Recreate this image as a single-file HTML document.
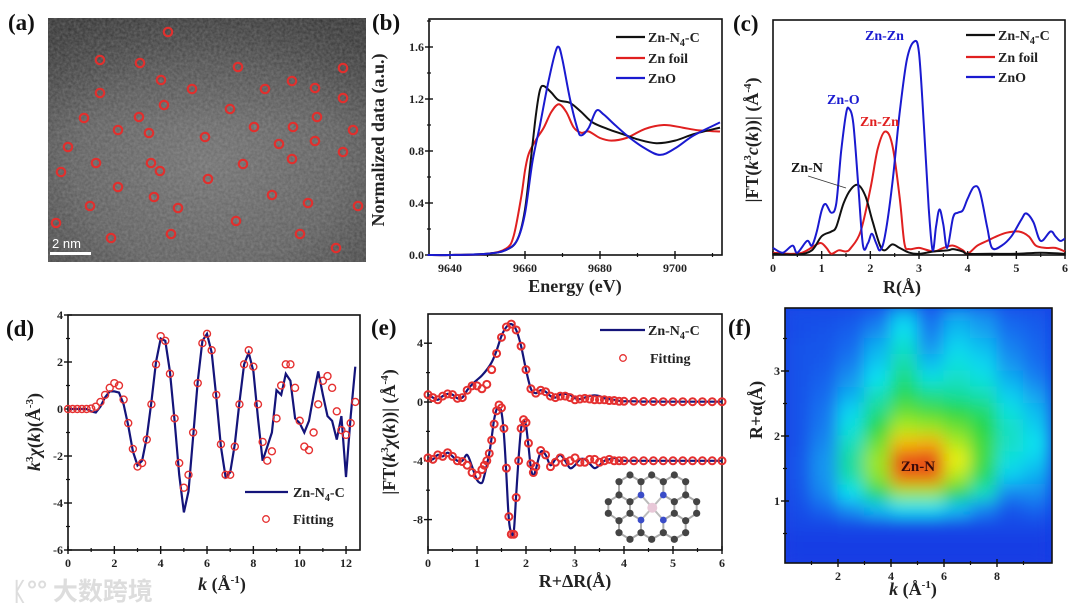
<!DOCTYPE html>
<html>
<head>
<meta charset="utf-8">
<style>
html,body{margin:0;padding:0;background:#fff;}
svg{display:block;font-family:"Liberation Serif","Noto Serif CJK SC",serif;}
.tk{font-size:12px;font-weight:bold;fill:#222;}
.tt{font-size:18px;font-weight:bold;fill:#222;}
.lg{font-size:14px;font-weight:bold;fill:#222;}
.pl{font-size:23px;font-weight:bold;fill:#111;}
</style>
</head>
<body>
<svg id="fig" width="1080" height="612" viewBox="0 0 1080 612" xmlns="http://www.w3.org/2000/svg">
<defs>
<radialGradient id="stemG" cx="50%" cy="60%" r="70%">
<stop offset="0" stop-color="#6e6e6e"/><stop offset="0.6" stop-color="#5c5c5c"/><stop offset="1" stop-color="#3c3c3c"/>
</radialGradient>
<linearGradient id="stemTop" x1="0" y1="0" x2="0" y2="1">
<stop offset="0" stop-color="#222" stop-opacity="0.45"/><stop offset="0.45" stop-color="#222" stop-opacity="0"/>
</linearGradient>
<filter id="noise" x="0" y="0" width="100%" height="100%"><feTurbulence type="fractalNoise" baseFrequency="0.35" numOctaves="2" seed="3"/><feColorMatrix type="matrix" values="0 0 0 0 0.55 0 0 0 0 0.55 0 0 0 0 0.55 0 0 0 0.35 0"/></filter>
<filter id="blurF" x="-10%" y="-10%" width="120%" height="120%"><feGaussianBlur stdDeviation="8"/></filter>
<clipPath id="clipF"><rect x="785" y="308" width="267" height="255"/></clipPath>
<clipPath id="clipA"><rect x="48" y="18" width="318" height="244"/></clipPath>
</defs>
<text class="pl" x="8" y="30">(a)</text>
<text class="pl" x="372" y="30">(b)</text>
<text class="pl" x="733" y="31">(c)</text>
<text class="pl" x="6" y="336">(d)</text>
<text class="pl" x="371" y="335">(e)</text>
<text class="pl" x="728" y="335">(f)</text>
<text x="12" y="600" style="font-family:'Noto Sans CJK SC',sans-serif;font-size:25px;fill:#ddd;font-weight:bold">ᛕ°° 大数跨境</text>
</svg>
<script>
const svg = document.getElementById('fig');
const NS = 'http://www.w3.org/2000/svg';
function mk(tag, attrs, parent){const e=document.createElementNS(NS,tag);for(const k in attrs)e.setAttribute(k,attrs[k]);(parent||svg).appendChild(e);return e;}
function smooth(pts){let d='M'+pts[0][0].toFixed(1)+','+pts[0][1].toFixed(1);for(let i=0;i<pts.length-1;i++){const p0=pts[i>0?i-1:0],p1=pts[i],p2=pts[i+1],p3=pts[i+2<pts.length?i+2:i+1];const c1=[p1[0]+(p2[0]-p0[0])/6,p1[1]+(p2[1]-p0[1])/6],c2=[p2[0]-(p3[0]-p1[0])/6,p2[1]-(p3[1]-p1[1])/6];d+='C'+c1[0].toFixed(1)+','+c1[1].toFixed(1)+' '+c2[0].toFixed(1)+','+c2[1].toFixed(1)+' '+p2[0].toFixed(1)+','+p2[1].toFixed(1);}return d;}
function poly(pts){return 'M'+pts.map(p=>p[0].toFixed(1)+','+p[1].toFixed(1)).join('L');}

/* ---------------- DATA ---------------- */
const atomX=[168,100,140,238,343,161,192,265,292,315,100,164,343,230,84,139,317,118,149,254,293,353,205,279,315,68,96,151,160,243,292,343,61,208,118,272,154,308,90,178,358,56,236,111,171,300,336];
const atomY=[32,60,63,67,68,80,89,89,81,88,93,105,98,109,118,117,117,130,133,127,127,130,137,144,141,147,163,163,171,164,159,152,172,179,187,195,197,203,206,208,206,223,221,238,234,234,248];
const bTicksX=[9640,9660,9680,9700];
const bTicksY=[0.0,0.4,0.8,1.2,1.6];
const bE_N4C=[9634,9640,9650,9655,9658,9660,9662,9663,9664,9665,9667,9669,9672,9675,9678,9682,9686,9690,9695,9700,9705,9712];
const bV_N4C=[0,0,0.01,0.04,0.12,0.35,0.85,1.1,1.27,1.3,1.25,1.19,1.17,1.1,1.02,0.97,0.93,0.89,0.86,0.88,0.93,0.98];
const bE_foil=[9634,9640,9650,9655,9657,9659,9660,9661,9663,9665,9667,9669,9671,9673,9675,9677,9680,9683,9687,9692,9697,9702,9706,9712];
const bV_foil=[0,0,0.01,0.05,0.15,0.45,0.65,0.78,0.89,0.98,1.1,1.16,1.1,0.98,0.94,0.95,0.9,0.88,0.9,0.97,1.0,0.98,0.96,0.95];
const bE_ZnO=[9634,9640,9650,9655,9658,9660,9662,9664,9666,9668,9669,9670,9672,9674,9675,9677,9679,9681,9684,9688,9692,9696,9700,9705,9712];
const bV_ZnO=[0,0,0.01,0.04,0.12,0.32,0.72,1.0,1.3,1.55,1.6,1.5,1.2,0.97,0.92,0.98,1.11,1.08,1.0,0.9,0.82,0.77,0.82,0.92,1.02];
const cTicksX=[0,1,2,3,4,5,6];
const cR_ZnO=[0,0.2,0.4,0.5,0.7,0.8,0.9,1.0,1.08,1.2,1.3,1.4,1.5,1.56,1.65,1.75,1.85,1.95,2.03,2.12,2.2,2.3,2.45,2.6,2.75,2.9,3.0,3.1,3.2,3.28,3.35,3.42,3.5,3.58,3.7,3.8,3.9,4.0,4.13,4.25,4.4,4.5,4.7,4.9,5.1,5.2,5.35,5.5,5.7,5.8,5.9,6.0];
const cV_ZnO=[0.3,0.1,0.4,0.1,0.6,0.4,1.0,1.9,2.17,1.8,2.2,4.4,6.0,6.24,5.6,3.0,0.4,0.5,0.9,0.5,0.2,0.8,3.0,6.0,8.3,9.08,8.6,5.5,2.0,0.2,1.2,1.94,1.3,0.3,1.6,1.8,1.9,2.4,2.9,2.7,1.2,0.3,0.4,0.8,1.5,1.77,1.4,0.6,1.0,0.8,0.6,0.7];
const cR_foil=[0,0.3,0.6,0.9,1.0,1.1,1.2,1.35,1.5,1.6,1.8,2.0,2.15,2.3,2.45,2.6,2.7,2.8,3.0,3.3,3.5,3.7,3.9,4.0,4.2,4.4,4.6,4.8,5.05,5.25,5.4,5.6,5.8,6.0];
const cV_foil=[0.1,0.05,0.1,0.45,0.5,0.3,0.05,0.2,0.15,0.3,1.0,2.8,4.5,5.25,4.7,2.5,0.5,0.25,0.3,0.15,0.3,0.4,0.2,0.05,0.4,0.6,0.8,0.95,1.0,0.8,0.4,0.3,0.3,0.15];
const cR_N4C=[0,0.5,0.8,1.0,1.2,1.3,1.45,1.6,1.75,1.9,2.05,2.2,2.3,2.45,2.6,2.8,3.0,3.3,3.6,3.7,3.9,4.0,4.5,5.0,5.5,6.0];
const cV_N4C=[0.05,0.02,0.2,0.8,1.0,1.2,2.2,2.8,2.98,2.5,1.4,0.4,0.2,0.45,0.3,0.1,0.05,0.15,0.2,0.25,0.15,0.05,0.05,0.05,0.1,0.05];
const dTicksX=[0,2,4,6,8,10,12];
const dTicksY=[4,2,0,-2,-4,-6];
const dK=[0,0.2,0.4,0.6,0.8,1.0,1.2,1.4,1.6,1.8,2.0,2.2,2.4,2.6,2.8,3.0,3.2,3.4,3.6,3.8,4.0,4.2,4.4,4.6,4.8,5.0,5.2,5.4,5.6,5.8,6.0,6.2,6.4,6.6,6.8,7.0,7.2,7.4,7.6,7.8,8.0,8.2,8.4,8.6,8.8,9.0,9.2,9.4,9.6,9.8,10.0,10.2,10.4,10.6,10.8,11.0,11.2,11.4,11.6,11.8,12.0,12.2,12.4];
const dFit=[0,0,0,0,0,0.02,0.1,0.3,0.6,0.9,1.1,1.0,0.4,-0.6,-1.7,-2.45,-2.3,-1.3,0.2,1.9,3.1,2.9,1.5,-0.4,-2.3,-3.35,-2.8,-1.0,1.1,2.8,3.2,2.5,0.6,-1.5,-2.8,-2.8,-1.6,0.2,1.9,2.5,1.8,0.2,-1.4,-2.2,-1.8,-0.4,1.0,1.9,1.9,0.9,-0.5,-1.6,-1.75,-1.0,0.2,1.2,1.4,0.9,-0.1,-0.9,-1.1,-0.6,0.3];
const dData=[0,0,0,0,0,-0.1,-0.15,0.1,0.5,0.75,0.75,0.7,0.2,-0.7,-1.8,-2.4,-2.2,-1.2,0.3,2.0,3.0,2.9,1.6,-0.5,-2.8,-4.4,-3.5,-1.2,1.2,2.9,3.2,2.4,0.5,-1.6,-2.9,-2.7,-1.5,0.3,1.9,2.4,1.6,-0.4,-2.2,-1.6,-1.0,0.8,0.6,1.5,1.2,-0.4,-0.6,-1.0,-0.5,0.6,1.6,0.6,-0.3,-0.5,-1.3,-0.3,-2.9,-0.3,1.8];
const eTicksX=[0,1,2,3,4,5,6];
const eTicksY=[4,0,-4,-8];
const eR_up=[0,0.1,0.2,0.3,0.4,0.5,0.6,0.7,0.8,0.9,1.0,1.1,1.2,1.3,1.4,1.5,1.6,1.7,1.8,1.9,2.0,2.1,2.2,2.3,2.4,2.5,2.6,2.7,2.8,2.9,3.0,3.1,3.2,3.3,3.4,3.5,3.6,3.7,3.8,3.9,4.0,4.2,4.4,4.6,4.8,5.0,5.2,5.4,5.6,5.8,6.0];
const eFitUp=[0.5,0.3,0.15,0.4,0.55,0.5,0.25,0.3,0.8,1.1,1.1,0.9,1.2,2.2,3.3,4.4,5.1,5.3,4.9,3.8,2.2,0.9,0.6,0.8,0.7,0.4,0.3,0.4,0.4,0.3,0.15,0.2,0.25,0.2,0.15,0.15,0.15,0.1,0.1,0.05,0.05,0.05,0.03,0.03,0.02,0.02,0.02,0.02,0.02,0.02,0.02];
const eDataUp=[0.5,0.3,0.15,0.4,0.55,0.5,0.25,0.3,0.8,1.2,1.5,1.8,2.2,2.7,3.5,4.5,5.1,5.3,4.9,3.8,2.2,0.9,0.6,0.8,0.7,0.4,0.3,0.5,0.55,0.5,0.25,0.2,0.3,0.4,0.45,0.4,0.25,0.2,0.15,0.08,0.05,0.05,0.03,0.03,0.02,0.02,0.02,0.02,0.02,0.02,0.02];
const eR_lo=[0,0.1,0.2,0.3,0.4,0.5,0.6,0.7,0.8,0.9,1.0,1.1,1.15,1.2,1.25,1.3,1.35,1.4,1.45,1.5,1.55,1.6,1.65,1.7,1.75,1.8,1.85,1.9,1.95,2.0,2.05,2.1,2.15,2.2,2.3,2.4,2.5,2.6,2.7,2.8,2.9,3.0,3.1,3.2,3.3,3.4,3.5,3.6,3.7,3.8,3.9,4.0,4.2,4.4,4.6,4.8,5.0,5.2,5.4,5.6,5.8,6.0];
const eFitLo=[-3.8,-3.9,-3.6,-3.7,-3.45,-3.7,-4.0,-4.05,-4.3,-4.8,-5.0,-4.6,-4.3,-4.0,-3.5,-2.6,-1.5,-0.6,-0.2,-0.4,-1.8,-4.5,-7.8,-9.0,-9.0,-6.5,-4.0,-1.8,-1.2,-1.4,-2.8,-4.2,-4.8,-4.4,-3.3,-3.6,-4.4,-4.1,-3.8,-4.1,-4.0,-3.8,-4.1,-4.1,-3.9,-3.9,-4.1,-4.0,-3.9,-4.0,-4.0,-4.0,-4.0,-4.0,-4.0,-4.0,-4.0,-4.0,-4.0,-4.0,-4.0,-4.0];
const eDataLo=[-3.8,-3.9,-3.6,-3.7,-3.45,-3.7,-4.0,-4.0,-3.6,-4.4,-5.3,-5.5,-5.0,-4.3,-3.5,-2.4,-1.2,-0.5,-0.4,-0.7,-2.2,-5.0,-8.0,-8.9,-8.8,-6.3,-3.8,-1.8,-1.3,-1.6,-3.0,-4.5,-5.0,-4.6,-3.4,-3.6,-4.3,-3.9,-3.6,-4.0,-4.5,-4.3,-3.9,-3.9,-4.2,-4.5,-4.3,-4.0,-3.9,-3.8,-4.0,-4.0,-4.0,-4.0,-4.0,-4.0,-4.0,-4.0,-4.0,-4.0,-4.0,-4.0];
const fTicksX=[2,4,6,8];
const fTicksY=[1,2,3];
const fKcenters=[0.5,1.5,2.5,3.5,4.5,5.5,6.5,7.5,8.5,9.5];
const fRcenters=[3.875,3.625,3.375,3.125,2.875,2.625,2.375,2.125,1.875,1.625,1.375,1.125,0.875,0.625,0.375,0.125];
const fGrid=[
[.04,.04,.05,.10,.24,.10,.20,.16,.08,.06],
[.04,.05,.08,.16,.30,.14,.24,.20,.12,.08],
[.05,.06,.11,.22,.34,.18,.28,.24,.15,.10],
[.05,.07,.14,.26,.38,.24,.32,.28,.18,.12],
[.05,.09,.18,.30,.43,.32,.35,.32,.22,.15],
[.05,.11,.22,.36,.48,.42,.40,.37,.27,.20],
[.05,.13,.28,.42,.56,.53,.50,.45,.32,.24],
[.05,.14,.32,.50,.64,.62,.57,.50,.35,.27],
[.05,.16,.36,.57,.78,.80,.64,.52,.35,.30],
[.06,.18,.40,.62,.95,.97,.70,.52,.32,.27],
[.06,.18,.38,.60,.90,.90,.64,.47,.27,.22],
[.05,.16,.30,.47,.62,.62,.50,.36,.16,.17],
[.04,.10,.18,.25,.30,.30,.25,.16,.06,.10],
[.02,.02,.03,.03,.03,.03,.03,.03,.03,.03],
[0,0,0,0,0,0,0,0,0,0],
[0,0,0,0,0,0,0,0,0,0]];

/* ---------------- helpers ---------------- */
function frame(x0,y0,x1,y1,name){
  const r=mk('rect',{x:x0,y:y0,width:x1-x0,height:y1-y0,fill:'none',stroke:'#111','stroke-width':1.6});
  
  
}
function tickLabel(x,y,txt,anchor,name){
  const t=mk('text',{x:x,y:y,'text-anchor':anchor,class:'tk'});t.textContent=txt;
  
  
}
function xTicks(vals,X,yb,minorVals,name){
  vals.forEach(v=>{mk('line',{x1:X(v),x2:X(v),y1:yb-4,y2:yb+4,stroke:'#111','stroke-width':1.4});tickLabel(X(v),yb+17,String(v),'middle',name);});
  (minorVals||[]).forEach(v=>mk('line',{x1:X(v),x2:X(v),y1:yb-2,y2:yb+2,stroke:'#111','stroke-width':1.2}));
}
function yTicks(vals,Y,xl,fmt,minorVals,name){
  vals.forEach(v=>{mk('line',{x1:xl-4,x2:xl+4,y1:Y(v),y2:Y(v),stroke:'#111','stroke-width':1.4});tickLabel(xl-5,Y(v)+4,fmt(v),'end',name);});
  (minorVals||[]).forEach(v=>mk('line',{x1:xl-2,x2:xl+2,y1:Y(v),y2:Y(v),stroke:'#111','stroke-width':1.2}));
}
function title(x,y,html,rot,name,size){
  const t=mk('text',{x:x,y:y,'text-anchor':'middle',class:'tt'});
  if(size)t.style.fontSize=size+'px';
  if(rot)t.setAttribute('transform','rotate(-90 '+x+' '+y+')');
  t.innerHTML=html;
  
  
}
function legLine(x0,x1,y,color,label,name){
  const g=mk('g',{});
  
  
  mk('line',{x1:x0,x2:x1,y1:y,y2:y,stroke:color,'stroke-width':2.2},g);
  const t=mk('text',{x:x1+3,y:y+5,class:'lg'},g);t.innerHTML=label;
}

/* ---------------- (a) STEM image ---------------- */
(function(){
  const g=mk('g',{'clip-path':'url(#clipA)'});
  
  
  mk('rect',{x:48,y:18,width:318,height:244,fill:'url(#stemG)'},g);
  mk('rect',{x:48,y:18,width:318,height:244,fill:'url(#stemTop)'},g);
  mk('rect',{x:48,y:18,width:318,height:244,filter:'url(#noise)'},g);
  for(let i=0;i<atomX.length;i++){
    const c=mk('circle',{cx:atomX[i],cy:atomY[i],r:4.2,fill:'none',stroke:'#e0302e','stroke-width':2.2},g);
    
    
  }
  const sb=mk('rect',{x:50,y:252,width:41,height:3,fill:'#fff'},g);
  
  
  const st=mk('text',{x:52,y:248,fill:'#fff','font-family':'Liberation Sans, sans-serif','font-size':'13'},g);st.textContent='2 nm';
  
  
})();

/* ---------------- (b) XANES ---------------- */
(function(){
  const X=e=>450+(e-9640)*3.75, Y=v=>255-v*130;
  frame(429,19,722,255,'xanes-plot-frame');
  xTicks(bTicksX,X,255,[9650,9670,9690,9710],'xanes-x-tick');
  yTicks(bTicksY,Y,429,v=>v.toFixed(1),[0.2,0.6,1.0,1.4,1.8].filter(v=>Y(v)>19),'xanes-y-tick');
  const series=[[bE_foil,bV_foil,'#e02020','xanes-zn-foil-line'],[bE_N4C,bV_N4C,'#111','xanes-zn-n4-c-line'],[bE_ZnO,bV_ZnO,'#1a1ad0','xanes-zno-line']];
  series.forEach(s=>{const p=mk('path',{d:smooth(s[0].map((e,i)=>[X(e),Y(s[1][i])])),fill:'none',stroke:s[2],'stroke-width':2});
    
    });
  legLine(616,645,37,'#111','Zn-N<tspan font-size="10" dy="4">4</tspan><tspan dy="-4">-C</tspan>','xanes-legend-zn-n4-c');
  legLine(616,645,58,'#e02020','Zn foil','xanes-legend-zn-foil');
  legLine(616,645,78,'#1a1ad0','ZnO','xanes-legend-zno');
  title(384,140,'Normalized data (a.u.)',true,'xanes-y-axis-title');
  title(575,292,'Energy (eV)',false,'xanes-x-axis-title');
})();

/* ---------------- (c) FT ---------------- */
(function(){
  const X=r=>773+r*48.67, Y=v=>255-v*23.5;
  frame(773,20,1065,255,'ft-plot-frame');
  xTicks(cTicksX,X,255,[0.5,1.5,2.5,3.5,4.5,5.5],'ft-x-tick');
  const series=[[cR_foil,cV_foil,'#e02020','ft-zn-foil-line'],[cR_N4C,cV_N4C,'#111','ft-zn-n4-c-line'],[cR_ZnO,cV_ZnO,'#1a1ad0','ft-zno-line']];
  series.forEach(s=>{const p=mk('path',{d:smooth(s[0].map((r,i)=>[X(r),Y(Math.max(0,s[1][i]))])),fill:'none',stroke:s[2],'stroke-width':2});
    
    });
  const ann=[[865,40,'Zn-Zn','#1a1ad0','zno-zn-zn-annotation'],[827,104,'Zn-O','#1a1ad0','zno-zn-o-annotation'],[860,126,'Zn-Zn','#e02020','foil-zn-zn-annotation'],[791,172,'Zn-N','#111','zn-n-annotation']];
  ann.forEach(a=>{const t=mk('text',{x:a[0],y:a[1],fill:a[3],'font-size':'14','font-weight':'bold'});t.textContent=a[2];
    
    });
  const ar=mk('line',{x1:808,y1:176,x2:846,y2:188,stroke:'#333','stroke-width':0.8});
  
  
  legLine(966,995,35,'#111','Zn-N<tspan font-size="10" dy="4">4</tspan><tspan dy="-4">-C</tspan>','ft-legend-zn-n4-c');
  legLine(966,995,57,'#e02020','Zn foil','ft-legend-zn-foil');
  legLine(966,995,77,'#1a1ad0','ZnO','ft-legend-zno');
  title(758,140,'|FT(<tspan font-style="italic">k</tspan><tspan font-size="11" dy="-7">3</tspan><tspan dy="7" font-style="italic">c</tspan>(<tspan font-style="italic">k</tspan>))| (Å<tspan font-size="11" dy="-7">-4</tspan><tspan dy="7">)</tspan>',true,'ft-y-axis-title');
  title(902,293,'R(Å)',false,'ft-x-axis-title');
})();

/* ---------------- (d) k-space ---------------- */
(function(){
  const X=k=>68+k*23.17, Y=v=>409-v*23.5;
  frame(68,315,360,550,'kspace-plot-frame');
  xTicks(dTicksX,X,550,[1,3,5,7,9,11],'kspace-x-tick');
  yTicks(dTicksY,Y,68,v=>String(v),[3,1,-1,-3,-5],'kspace-y-tick');
  const p=mk('path',{d:poly(dK.map((k,i)=>[X(k),Y(dData[i])])),fill:'none',stroke:'#14147a','stroke-width':2.2});
  
  
  dK.forEach((k,i)=>{const c=mk('circle',{cx:X(k),cy:Y(dFit[i]),r:3.5,fill:'none',stroke:'#e53030','stroke-width':1.4});
    
    });
  legLine(245,288,492,'#14147a','','kspace-legend-line');
  const lt=mk('text',{x:293,y:497,class:'lg'});lt.innerHTML='Zn-N<tspan font-size="10" dy="4">4</tspan><tspan dy="-4">-C</tspan>';
  
  
  const lc=mk('circle',{cx:266,cy:519,r:3.3,fill:'none',stroke:'#e53030','stroke-width':1.3});
  
  
  const lf=mk('text',{x:293,y:524,class:'lg'});lf.textContent='Fitting';
  
  
  title(40,432,'<tspan font-style="italic">k</tspan><tspan font-size="11" dy="-7">3</tspan><tspan dy="7" font-style="italic">χ</tspan>(<tspan font-style="italic">k</tspan>)(Å<tspan font-size="11" dy="-7">-3</tspan><tspan dy="7">)</tspan>',true,'kspace-y-axis-title');
  title(222,590,'<tspan font-style="italic">k</tspan> (Å<tspan font-size="11" dy="-7">-1</tspan><tspan dy="7">)</tspan>',false,'kspace-x-axis-title');
})();

/* ---------------- (e) R-space fit ---------------- */
(function(){
  const X=r=>428+r*49, Y=v=>402-v*14.7;
  frame(428,314,722,550,'rspace-plot-frame');
  xTicks(eTicksX,X,550,[0.5,1.5,2.5,3.5,4.5,5.5],'rspace-x-tick');
  yTicks(eTicksY,Y,428,v=>String(v),[2,-2,-6],'rspace-y-tick');
  [[eR_up,eDataUp,'rspace-magnitude-data-line'],[eR_lo,eDataLo,'rspace-real-part-data-line']].forEach(s=>{
    const p=mk('path',{d:smooth(s[0].map((r,i)=>[X(r),Y(s[1][i])])),fill:'none',stroke:'#14147a','stroke-width':2.2});
    
    });
  [[eR_up,eFitUp],[eR_lo,eFitLo]].forEach(s=>{s[0].forEach((r,i)=>{
    const c=mk('circle',{cx:X(r),cy:Y(s[1][i]),r:3.5,fill:'none',stroke:'#e53030','stroke-width':2});
    
    });});
  legLine(600,645,330,'#14147a','Zn-N<tspan font-size="10" dy="4">4</tspan><tspan dy="-4">-C</tspan>','rspace-legend-data');
  const lc=mk('circle',{cx:623,cy:358,r:3.3,fill:'none',stroke:'#e53030','stroke-width':1.3});
  
  
  const lf=mk('text',{x:650,y:363,class:'lg'});lf.textContent='Fitting';
  
  
  title(395,432,'|FT(<tspan font-style="italic">k</tspan><tspan font-size="11" dy="-7">3</tspan><tspan dy="7" font-style="italic">χ</tspan>(<tspan font-style="italic">k</tspan>))| (Å<tspan font-size="11" dy="-7">-4</tspan><tspan dy="7">)</tspan>',true,'rspace-y-axis-title');
  title(575,587,'R+ΔR(Å)',false,'rspace-x-axis-title');
  const g=mk('g',{});
  
  
  const cx=652.3,cy=507.7;
  const grayZ=[[120,45],[185,45],[253,45],[87,65],[153,65],[220,65],[287,65],[87,105],[287,105],[55,125],[120,125],[253,125],[320,125],[55,160],[120,160],[253,160],[320,160],[87,182],[287,182],[87,218],[153,218],[220,218],[287,218],[120,238],[185,238],[253,238]];
  const nZ=[[153,105],[220,105],[153,180],[220,180]];
  const tp=p=>[590+p[0]/3,460+p[1]/3];
  const gray=grayZ.map(tp), nit=nZ.map(tp), all=gray.concat(nit);
  for(let i=0;i<all.length;i++)for(let j=i+1;j<all.length;j++){const d=Math.hypot(all[i][0]-all[j][0],all[i][1]-all[j][1]);if(d<15)mk('line',{x1:all[i][0],y1:all[i][1],x2:all[j][0],y2:all[j][1],stroke:'#aaa','stroke-width':2},g);}
  nit.forEach(p=>mk('line',{x1:p[0],y1:p[1],x2:cx,y2:cy,stroke:'#bbb','stroke-width':2},g));
  gray.forEach(p=>mk('circle',{cx:p[0],cy:p[1],r:3.6,fill:'#444'},g));
  nit.forEach(p=>mk('circle',{cx:p[0],cy:p[1],r:3.4,fill:'#3a4cc8'},g));
  mk('circle',{cx:cx,cy:cy,r:5,fill:'#e8c8d8'},g);
})();

/* ---------------- (f) wavelet ---------------- */
(function(){
  const X=k=>785+k*26.5, Y=r=>566-r*65;
  const stops=[[0,[22,62,228]],[0.12,[25,110,240]],[0.3,[10,225,240]],[0.5,[40,215,70]],[0.7,[235,240,10]],[0.85,[250,140,20]],[1,[220,30,20]]];
  function cmap(v){for(let i=0;i<stops.length-1;i++){const a=stops[i],b=stops[i+1];if(v<=b[0]){const t=(v-a[0])/(b[0]-a[0]);return 'rgb('+a[1].map((c,j)=>Math.round(c+(b[1][j]-c)*t)).join(',')+')';}}return 'rgb(220,30,20)';}
  const g=mk('g',{'clip-path':'url(#clipF)'});
  
  
  mk('rect',{x:785,y:308,width:267,height:255,fill:'rgb(22,62,228)'},g);
  const gb=mk('g',{filter:'url(#blurF)'},g);
  fRcenters.forEach((r,i)=>fKcenters.forEach((k,j)=>{
    const c=mk('rect',{x:X(k-0.5)-0.5,y:Y(r+0.125)-0.5,width:26.5+1,height:16.25+1,fill:cmap(fGrid[i][j])},gb);
    
    
  }));
  frame(785,308,1052,563,'wavelet-plot-frame');
  xTicks(fTicksX,X,563,[1,3,5,7,9],'wavelet-x-tick');
  yTicks(fTicksY,Y,785,v=>String(v),[0.5,1.5,2.5,3.5],'wavelet-y-tick');
  const t=mk('text',{x:918,y:471,'text-anchor':'middle','font-size':'15','font-weight':'bold',fill:'#3a0a0a'});t.textContent='Zn-N';
  
  
  title(762,410,'R+α(Å)',true,'wavelet-y-axis-title');
  title(913,595,'<tspan font-style="italic">k</tspan> (Å<tspan font-size="11" dy="-7">-1</tspan><tspan dy="7">)</tspan>',false,'wavelet-x-axis-title');
})();
</script>
</body>
</html>
